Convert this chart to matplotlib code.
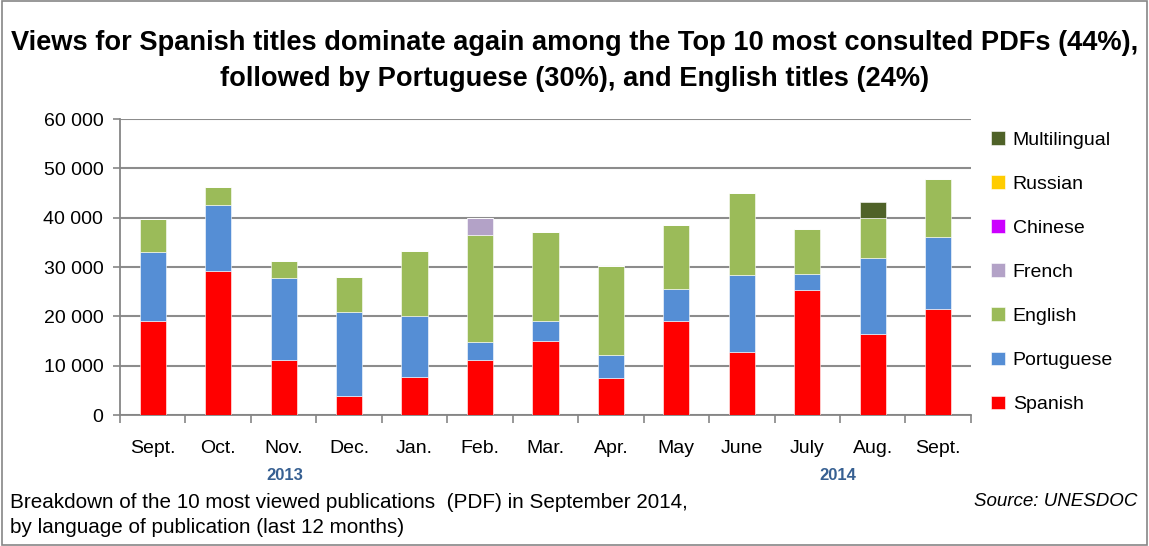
import matplotlib.pyplot as plt
import numpy as np
from matplotlib.patches import Rectangle

months = ['Sept.', 'Oct.', 'Nov.', 'Dec.', 'Jan.', 'Feb.', 'Mar.', 'Apr.',
          'May', 'June', 'July', 'Aug.', 'Sept.']

spanish = [19100, 29100, 11200, 3900, 7800, 11100, 15100, 7600, 19000, 12800, 25400, 16500, 21400]
portuguese = [14000, 13500, 16600, 17000, 12300, 3600, 4000, 4600, 6600, 15600, 3100, 15400, 14700]
english = [6600, 3600, 3400, 7100, 13100, 21700, 18100, 18100, 13000, 16700, 9300, 8100, 11700]
french = [0, 0, 0, 0, 0, 3600, 0, 0, 0, 0, 0, 0, 0]
chinese = [0] * 13
russian = [0] * 13
multilingual = [0, 0, 0, 0, 0, 0, 0, 0, 0, 0, 0, 3200, 0]

series = [spanish, portuguese, english, french, chinese, russian, multilingual]
names = ['Spanish', 'Portuguese', 'English', 'French', 'Chinese', 'Russian', 'Multilingual']
colors = ['#ff0000', '#558ed5', '#9bbb59', '#b3a2c7', '#cc00ff', '#ffcc00', '#4f6228']

plt.rcParams['font.family'] = ['Liberation Sans', 'DejaVu Sans']

fig = plt.figure(figsize=(11.49, 5.46), dpi=100)
ax = fig.add_axes([0.1044, 0.2399, 0.7406, 0.5421])

x = np.arange(len(months))
bottom = np.zeros(len(months))
handles = []
for vals, name, c in zip(series, names, colors):
    b = ax.bar(x, vals, width=0.4, bottom=bottom, color=c, edgecolor='white',
               linewidth=0.4, label=name, zorder=3)
    handles.append(b)
    bottom += np.array(vals)

ax.set_xlim(-0.5, len(months) - 0.5)
ax.set_ylim(0, 60000)
ax.set_yticks(np.arange(0, 60001, 10000))
ax.set_yticklabels(['0' if v == 0 else f'{v // 1000} 000' for v in range(0, 60001, 10000)])
ax.set_xticks(x)
ax.set_xticklabels(months)
ax.set_xticks(np.arange(-0.5, len(months), 1), minor=True)
ax.tick_params(axis='x', which='major', length=0, pad=18, labelsize=14)
ax.tick_params(axis='x', which='minor', length=6, color='#868686', width=1.2)
ax.tick_params(axis='y', length=5, color='#868686', width=1.2, labelsize=14, pad=7)
ax.grid(axis='y', color='#8c8c8c', linewidth=1.5, zorder=0)
for s in ['top', 'right']:
    ax.spines[s].set_visible(False)
for s in ['left', 'bottom']:
    ax.spines[s].set_color('#868686')
    ax.spines[s].set_linewidth(1.3)

leg = ax.legend(handles[::-1], names[::-1], loc='upper left', bbox_to_anchor=(1.015, 0.985),
                frameon=False, fontsize=14, handlelength=0.7, handleheight=0.7,
                handletextpad=0.4, labelspacing=1.36, borderaxespad=0)

fig.text(0.5, 1 - 61 / 546, 'Views for Spanish titles dominate again among the Top 10 most consulted PDFs (44%),\n'
         'followed by Portuguese (30%), and English titles (24%)',
         ha='center', va='center', fontsize=19.6, fontweight='bold', linespacing=1.5)

fig.text(285 / 1149, 1 - 475 / 546, '2013', ha='center', va='center', fontsize=12,
         fontweight='bold', color='#376092')
fig.text(838 / 1149, 1 - 475 / 546, '2014', ha='center', va='center', fontsize=12,
         fontweight='bold', color='#376092')
fig.text(10 / 1149, 1 - 515 / 546, 'Breakdown of the 10 most viewed publications  (PDF) in September 2014,\n'
         'by language of publication (last 12 months)', ha='left', va='center', fontsize=14.9,
         linespacing=1.35)
fig.text(1137 / 1149, 1 - 501 / 546, 'Source: UNESDOC', ha='right', va='center', fontsize=13.5,
         style='italic')

fig.patches.append(Rectangle((0.002, 0.002), 0.996, 0.996, transform=fig.transFigure,
                             fill=False, edgecolor='#868686', linewidth=1.2))

fig.savefig('out.png', dpi=100)
